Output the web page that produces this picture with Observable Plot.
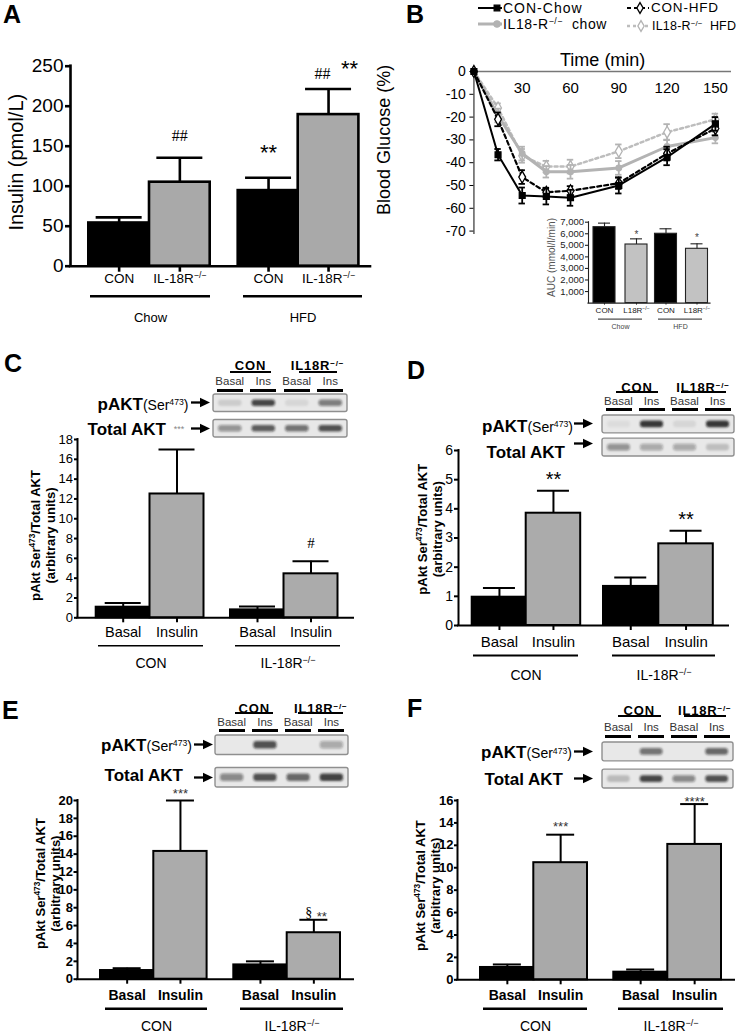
<!DOCTYPE html>
<html>
<head>
<meta charset="utf-8">
<script src="https://cdn.jsdelivr.net/npm/d3@7"></script>
<script src="https://cdn.jsdelivr.net/npm/@observablehq/plot@0.6"></script>
<style>
  html, body { margin: 0; padding: 0; background: #fff; }
  #fig { position: relative; width: 747px; height: 1035px; overflow: hidden; background: #fff;
         font-family: "Liberation Sans", Arial, Helvetica, sans-serif; color: #000; }
  .abs { position: absolute; white-space: nowrap; line-height: 1; }
  .abs sup { font-size: 62%; line-height: 0; vertical-align: 0; position: relative; top: -0.55em; }
</style>
</head>
<body>
<div id="fig"></div>
<script>
// ================= DATA =================
// Panel A – fasting insulin
const aDiets = ["Chow", "HFD"];
const aGenotypes = ["CON", "IL-18R^{−/−}"];
const aInsulin = [54, 105, 94.5, 189.5];
const aInsulinSem = [7, 30.5, 16, 32];
const aTicks = [0, 50, 100, 150, 200, 250];
const aSigHash = ["", "##", "", "##"];
const aSigStar = ["", "", "**", "**"];

// Panel B – insulin tolerance test
const bTime = [0, 15, 30, 45, 60, 90, 120, 150];
const bSeriesNames = ["CON-Chow", "IL18-R^{−/−}  chow", "CON-HFD", "IL18-R^{−/−}  HFD"];
const bConChow    = [0, -36.5, -54.4, -54.8, -55.4, -50, -37.6, -23];
const bConChowSem = [0, 2.5, 3.5, 3.5, 3.5, 3.5, 3.5, 3];
const bIlChow     = [0, -19.3, -36, -44, -44, -42.3, -32.9, -29];
const bIlChowSem  = [0, 3, 3, 2.5, 3, 3, 3, 2.5];
const bConHfd     = [0, -21, -46.3, -53, -52.3, -49, -36, -25];
const bConHfdSem  = [0, 3, 3, 2, 2, 2.5, 3, 3];
const bIlHfd      = [0, -16, -37, -41.7, -41.7, -35, -26.6, -21];
const bIlHfdSem   = [0, 2, 3, 2.5, 3, 3, 3.5, 2.5];
const bXTicks = [30, 60, 90, 120, 150];
const bYTicks = [0, -10, -20, -30, -40, -50, -60, -70];
const bXLabel = "Time (min)";
const bYLabel = "Blood Glucose (%)";

// Panel B inset – AUC
const aucGenotypes = ["CON", "L18R^{−/−}"];
const aucDiets = ["Chow", "HFD"];
const aucMean = [6570, 5070, 6000, 4700];
const aucSem = [350, 490, 430, 430];
const aucSig = ["", "*", "", "*"];
const aucTicks = [1000, 2000, 3000, 4000, 5000, 6000, 7000];

// Panels C–F – pAkt/total Akt
const treatments = ["Basal", "Insulin"];
const strains = ["CON", "IL-18R^{−/−}"];
const pAktLabel = "pAkt Ser^{473}/Total AKT\n(arbitrary units)";
const blotRows = ["pAKT", "Total AKT"];
const blotLanes = ["Basal", "Ins", "Basal", "Ins"];
const blotStrains = ["CON", "IL18R^{−/−}"];

const cMean = [1.07, 12.5, 0.8, 4.44];
const cSem  = [0.43, 4.5, 0.34, 1.26];
const cTicks = [0, 2, 4, 6, 8, 10, 12, 14, 16, 18];
const cSig = ["", "", "", "#"];
const cPakt  = [0.12, 0.75, 0.08, 0.5];
const cTotal = [0.4, 0.65, 0.55, 0.7];

const dMean = [0.97, 3.85, 1.34, 2.8];
const dSem  = [0.32, 0.77, 0.31, 0.45];
const dTicks = [0, 1, 2, 3, 4, 5, 6];
const dSig = ["", "**", "", "**"];
const dPakt  = [0.05, 0.85, 0.08, 0.85];
const dTotal = [0.4, 0.3, 0.3, 0.18];

const eMean = [0.97, 14.3, 1.6, 5.2];
const eSem  = [0.26, 5.7, 0.4, 1.45];
const eTicks = [0, 2, 4, 6, 8, 10, 12, 14, 16, 18, 20];
const eSig = ["", "***", "", "**"];
const eSig2 = ["", "", "", "§"];
const ePakt  = [0.0, 0.7, 0.0, 0.3];
const eTotal = [0.45, 0.7, 0.6, 0.8];

const fMean = [1.1, 10.45, 0.68, 12.08];
const fSem  = [0.27, 2.5, 0.24, 3.6];
const fTicks = [0, 2, 4, 6, 8, 10, 12, 14, 16];
const fSig = ["", "***", "", "****"];
const fPakt  = [0.0, 0.55, 0.0, 0.6];
const fTotal = [0.2, 0.75, 0.45, 0.7];

// ================= HELPERS =================
const FONT = '"Liberation Sans", Arial, Helvetica, sans-serif';
const SERIF = '"Liberation Serif", "Times New Roman", serif';
const fig = document.getElementById("fig");
const NS = "http://www.w3.org/2000/svg";
let blurCount = 0;

function rich(root) {
  root.querySelectorAll("text, tspan").forEach(el => {
    if (el.childElementCount) return;
    const s = el.textContent;
    if (!s.includes("^{")) return;
    el.textContent = "";
    const re = /\^\{([^}]*)\}/g; let last = 0, m;
    const add = (t, sup) => {
      const ts = document.createElementNS(NS, "tspan");
      ts.textContent = t;
      if (sup) { ts.setAttribute("baseline-shift", "super"); ts.setAttribute("font-size", "64%"); }
      el.appendChild(ts);
    };
    while ((m = re.exec(s))) { if (m.index > last) add(s.slice(last, m.index)); add(m[1], true); last = re.lastIndex; }
    if (last < s.length) add(s.slice(last));
  });
}
const htmlRich = s => s.replace(/\^\{([^}]*)\}/g, "<sup>$1</sup>").replace(/  /g, "&nbsp; ");

function mount(svg, left, top) {
  rich(svg);
  svg.style.position = "absolute";
  svg.style.left = left + "px";
  svg.style.top = top + "px";
  svg.style.maxWidth = "none";
  fig.appendChild(svg);
  return svg;
}

function label(html, x, y, opt = {}) {
  const d = document.createElement("div");
  d.className = "abs";
  d.innerHTML = html;
  const tx = opt.anchor === "end" ? "-100%" : opt.anchor === "middle" ? "-50%" : "0";
  Object.assign(d.style, {
    left: x + "px", top: y + "px",
    fontSize: (opt.size || 14) + "px",
    fontWeight: opt.weight || "normal",
    color: opt.color || "#000",
    letterSpacing: opt.ls ? opt.ls + "px" : "normal",
    fontFamily: opt.family || FONT,
    transform: `translate(${tx},-50%)`
  });
  fig.appendChild(d);
  return d;
}

function box(x, y, w, h, color = "#000") {
  const d = document.createElement("div");
  Object.assign(d.style, {position: "absolute", left: x + "px", top: y + "px", width: w + "px", height: h + "px", background: color});
  fig.appendChild(d);
}

function arrow(tip, y) {
  const s = d3.create("svg").attr("width", 19).attr("height", 11)
    .style("position", "absolute").style("left", (tip - 19) + "px").style("top", (y - 5.5) + "px").style("overflow", "visible");
  s.append("line").attr("x1", 0).attr("x2", 11).attr("y1", 5.5).attr("y2", 5.5).attr("stroke", "#000").attr("stroke-width", 2.3);
  s.append("path").attr("d", "M9,0.8 L19,5.5 L9,10.2 Z").attr("fill", "#000");
  fig.appendChild(s.node());
}

// ------------- bar chart panel -------------
function barPanel(o) {
  const u = px => (px - o.axisX) / o.barW;
  const xmax = u(o.axisRight);
  const bars = o.means.map((m, i) => {
    const x1 = u(o.barLefts[i]);
    return {x1, x2: x1 + 1, xc: x1 + 0.5, m, top: m + o.sems[i], fill: i % 2 ? o.gray : "#000", cat: o.cats[i % 2]};
  });
  const cap = o.capHalf / o.barW;
  const groups = o.groups.map((g, k) => ({name: g, x1: u(o.groupPx[k][0]), x2: u(o.groupPx[k][1]),
    xc: (u(o.groupPx[k][0]) + u(o.groupPx[k][1])) / 2}));
  const tickMap = new Map(bars.map(b => [b.xc, b.cat]));
  const sw = o.sw, aw = o.axisW;
  const svg = Plot.plot({
    width: o.svgRight - o.svgLeft,
    height: o.svgBottom - o.svgTop,
    marginLeft: o.axisX - o.svgLeft,
    marginRight: o.svgRight - o.axisRight,
    marginTop: o.yTopPx - o.svgTop,
    marginBottom: o.svgBottom - o.y0Px,
    style: {fontFamily: FONT, background: "transparent", overflow: "visible", color: o.color || "#000"},
    color: {type: "identity"},
    x: {domain: [0, xmax]},
    y: {domain: [0, o.yMax]},
    marks: [
      Plot.rectY(bars, {x1: "x1", x2: "x2", y1: () => 0, y2: "m", fill: "fill", stroke: o.barStroke || "#000", strokeWidth: sw}),
      Plot.ruleX(bars, {x: "xc", y1: "m", y2: "top", strokeWidth: sw, stroke: o.barStroke || "#000"}),
      Plot.ruleY(bars, {y: "top", x1: d => d.xc - cap, x2: d => d.xc + cap, strokeWidth: sw, stroke: o.barStroke || "#000"}),
      Plot.ruleX([0], {x: d => d, y1: () => 0, y2: () => o.yMax, strokeWidth: aw, strokeLinecap: "square"}),
      Plot.ruleY([0], {y: d => d, x1: () => 0, x2: () => xmax, strokeWidth: aw, strokeLinecap: "square"}),
      Plot.axisY({ticks: o.ticks, tickFormat: o.tickFormat || (d => String(d)), tickSize: o.tickSize, tickPadding: o.tickPad,
        fontSize: o.tickFont, fontWeight: o.tickWeight || "normal", strokeWidth: aw, label: null}),
      Plot.axisX({ticks: bars.map(b => b.xc), tickFormat: d => tickMap.get(d), tickSize: o.catTick, tickPadding: o.catPad,
        fontSize: o.catFont, fontWeight: o.catWeight || "normal", strokeWidth: aw, label: null}),
      Plot.ruleY(groups, {y: () => 0, x1: "x1", x2: "x2", dy: o.glDy, strokeWidth: o.glW}),
      Plot.text(groups, {x: "xc", y: () => 0, dy: o.gtDy, text: "name", fontSize: o.gtFont, fill: o.gtColor || "#000"}),
      Plot.text([o.yLabel], {y: () => o.yLabelY, frameAnchor: "left", textAnchor: "middle", lineAnchor: "middle",
        rotate: -90, dx: o.yLabelDx, fontSize: o.yLabelFont, fontWeight: o.yLabelWeight || "normal",
        lineHeight: 1.15, fill: o.yLabelColor || "#000"}),
      ...o.sig.filter(s => s.text).map(s => Plot.text([bars[s.bar]], {x: "xc", y: "top", text: () => s.text,
        dy: -s.off, dx: s.dx || 0, fontSize: s.fs, fontFamily: s.ff || FONT, fill: s.color || "#000"}))
    ]
  });
  return mount(svg, o.svgLeft, o.svgTop);
}

// ------------- western blot -------------
function blotPanel(o) {
  const W = o.right - o.left, H = o.bottom - o.top;
  const cells = [];
  blotRows.forEach((r, ri) => blotLanes.forEach((l, li) => cells.push({row: r, lane: li, v: (ri ? o.total : o.pakt)[li]})));
  const svg = Plot.plot({
    width: W, height: H, margin: 0,
    style: {background: "transparent", overflow: "visible"},
    opacity: {type: "identity"},
    x: {type: "band", domain: d3.range(blotLanes.length), padding: 0, round: false, axis: null},
    y: {type: "band", domain: blotRows, paddingInner: o.pad, paddingOuter: 0, round: false, axis: null},
    marks: [
      Plot.cell(blotRows, {y: d => d, fill: "#e8e8e8", stroke: "#8f8f8f", strokeWidth: 1.4, rx: 2}),
      Plot.cell(cells, {x: "lane", y: "row", fill: "#161616", fillOpacity: "v",
        insetLeft: 5, insetRight: 5, insetTop: o.by, insetBottom: o.by, rx: 3})
    ]
  });
  const id = "blur" + (++blurCount);
  const f = d3.select(svg).append("defs").append("filter").attr("id", id)
    .attr("x", "-20%").attr("y", "-60%").attr("width", "140%").attr("height", "220%");
  f.append("feGaussianBlur").attr("stdDeviation", 1.3);
  const gs = svg.querySelectorAll('g[aria-label="cell"]');
  if (gs.length > 1) gs[gs.length - 1].setAttribute("filter", `url(#${id})`);
  mount(svg, o.left, o.top);

  const xS = svg.scale("x"), yS = svg.scale("y");
  const lc = i => o.left + xS.apply(i) + xS.bandwidth / 2;
  const rc = r => o.top + yS.apply(r) + yS.bandwidth / 2;
  blotStrains.forEach((s, k) => {
    const cx = (lc(2 * k) + lc(2 * k + 1)) / 2 + o.hdx;
    label(htmlRich(s), cx, o.top + o.hStrain, {anchor: "middle", size: 13, weight: "bold", ls: 0.8});
    box(cx - o.ulW[k] / 2, o.top + o.hUl - 0.75, o.ulW[k], 1.5);
  });
  blotLanes.forEach((l, i) => {
    label(l, lc(i), o.top + o.hLane, {anchor: "middle", size: 11.5, color: "#333"});
    box(lc(i) - 13, o.top + o.hBar - 1.5, 26, 3);
  });
  const r0 = rc(blotRows[0]), r1 = rc(blotRows[1]);
  label(`<b>pAKT</b><span style="font-size:14px;font-weight:normal">(Ser<sup>473</sup>)</span>`,
    o.pRight, r0 + o.pDy, {anchor: "end", size: 17, weight: "bold"});
  arrow(o.tip, r0);
  label("Total AKT", o.tRight, r1 + o.tDy, {anchor: "end", size: 17, weight: "bold"});
  arrow(o.tip, r1 + (o.tArrowDy || 0));
  if (o.extra) label(o.extra, o.extraX, r1 + 1, {anchor: "middle", size: 9, color: "#888"});
}

// ================= PANEL A =================
barPanel({
  svgLeft: 0, svgTop: 45, svgRight: 374, svgBottom: 330,
  axisX: 70, axisRight: 370, yTopPx: 65.7, y0Px: 265.7, yMax: 250,
  barLefts: [88.3, 149, 237.7, 297.7], barW: 60.7, groupPx: [[90, 210], [243, 362]],
  means: aInsulin, sems: aInsulinSem, cats: aGenotypes, groups: aDiets,
  capHalf: 23, sw: 2.6, axisW: 2.6, gray: "#a9a9a9",
  ticks: aTicks, tickSize: 5, tickPad: 2, tickFont: 19,
  catFont: 13.5, catTick: 6, catPad: 1,
  glDy: 30, glW: 2.6, gtDy: 52, gtFont: 13,
  yLabel: "Insulin (pmol/L)", yLabelY: 130, yLabelDx: -55, yLabelFont: 20,
  sig: [
    {bar: 1, text: aSigHash[1], off: 22, fs: 16, ff: SERIF},
    {bar: 2, text: aSigStar[2], off: 25, fs: 22},
    {bar: 3, text: aSigHash[3], off: 15.5, fs: 16, ff: SERIF, dx: -6},
    {bar: 3, text: aSigStar[3], off: 20, fs: 22, dx: 21}
  ]
});

// ================= PANEL B =================
const bStyles = [
  {stroke: "#000", w: 2, dash: null, symbol: "square", r: 3.3, fill: "#000", sym: "#000"},
  {stroke: "#b3b3b3", w: 3, dash: null, symbol: "circle", r: 2.8, fill: "#b3b3b3", sym: "#b3b3b3"},
  {stroke: "#000", w: 2.2, dash: "4,3", symbol: "diamond", r: 3.6, fill: "#fff", sym: "#000"},
  {stroke: "#bdbdbd", w: 2.5, dash: "3,3", symbol: "diamond", r: 3.6, fill: "#fff", sym: "#b3b3b3"}
];
const bValues = [bConChow, bIlChow, bConHfd, bIlHfd];
const bSems = [bConChowSem, bIlChowSem, bConHfdSem, bIlHfdSem];
const bMarks = [];
[3, 1, 2, 0].forEach(k => {
  const s = bStyles[k];
  const pts = bTime.map((t, i) => ({t, v: bValues[k][i], e: bSems[k][i]}));
  const err = pts.filter(p => p.e > 0);
  bMarks.push(
    Plot.line(pts, {x: "t", y: "v", stroke: s.stroke, strokeWidth: s.w, strokeDasharray: s.dash || undefined}),
    Plot.ruleX(err, {x: "t", y1: d => d.v - d.e, y2: d => d.v + d.e, stroke: s.sym, strokeWidth: 1.8}),
    Plot.ruleY(err, {y: d => d.v + d.e, x1: d => d.t - 2, x2: d => d.t + 2, stroke: s.sym, strokeWidth: 1.8}),
    Plot.ruleY(err, {y: d => d.v - d.e, x1: d => d.t - 2, x2: d => d.t + 2, stroke: s.sym, strokeWidth: 1.8}),
    Plot.dot(pts, {x: "t", y: "v", symbol: s.symbol, r: s.r, fill: s.fill, stroke: s.sym, strokeWidth: 1.3})
  );
});
const bPlot = Plot.plot({
  width: 377, height: 200, marginLeft: 103.4, marginRight: 16, marginTop: 31, marginBottom: 6,
  style: {fontFamily: FONT, background: "transparent", overflow: "visible"},
  x: {domain: [0, 160], axis: null},
  y: {domain: [-71.5, 0]},
  marks: [
    Plot.ruleY([0], {y: d => d, x1: () => 0, x2: () => 160, stroke: "#777", strokeWidth: 1.5}),
    Plot.ruleX([0], {x: d => d, y1: () => -71.5, y2: () => 0, stroke: "#777", strokeWidth: 1.8}),
    Plot.axisY({ticks: bYTicks, tickFormat: d => d < 0 ? "-" + (-d) : String(d), tickSize: 4, tickPadding: 4, fontSize: 14, label: null}),
    Plot.text(bXTicks, {x: d => d, y: () => 0, dy: 17, text: d => String(d), fontSize: 15}),
    Plot.text([bXLabel], {frameAnchor: "top", lineAnchor: "middle", textAnchor: "middle", dy: -11, fontSize: 18}),
    Plot.text([bYLabel], {y: () => -30, frameAnchor: "left", textAnchor: "middle", lineAnchor: "middle", rotate: -90, dx: -90, fontSize: 18}),
    ...bMarks
  ]
});
mount(bPlot, 370, 40);

// legend of B
function legendRow(x, y, len, s, mx, textX, html, size, ls) {
  const sv = d3.create("svg").attr("width", len).attr("height", 14)
    .style("position", "absolute").style("left", x + "px").style("top", (y - 7) + "px").style("overflow", "visible");
  sv.append("line").attr("x1", 0).attr("x2", len).attr("y1", 7).attr("y2", 7)
    .attr("stroke", s.stroke).attr("stroke-width", s.w).attr("stroke-dasharray", s.dash);
  const type = {square: d3.symbolSquare, circle: d3.symbolCircle, diamond: d3.symbolDiamond}[s.symbol];
  sv.append("path").attr("d", d3.symbol(type, s.symbol === "diamond" ? 34 : 32)())
    .attr("transform", `translate(${mx},7)`).attr("fill", s.fill).attr("stroke", s.sym).attr("stroke-width", 1.3);
  fig.appendChild(sv.node());
  label(html, textX, y, {size, ls});
}
legendRow(478, 8, 24, bStyles[0], 19, 503, htmlRich(bSeriesNames[0]), 14, 1);
legendRow(478, 24, 24, bStyles[1], 19, 503, htmlRich(bSeriesNames[1]), 14, 0.6);
legendRow(627, 8, 22, bStyles[2], 13, 651, htmlRich(bSeriesNames[2]), 13.5, 0.8);
legendRow(627, 26, 23, bStyles[3], 14, 652, htmlRich(bSeriesNames[3]), 12.5, 0.2);

// inset AUC
barPanel({
  svgLeft: 540, svgTop: 212, svgRight: 715, svgBottom: 335,
  axisX: 588, axisRight: 710, yTopPx: 221.7, y0Px: 302.6, yMax: 7000,
  barLefts: [593, 625, 654.5, 685.5], barW: 22, groupPx: [[598, 642], [658, 702]],
  means: aucMean, sems: aucSem, cats: aucGenotypes, groups: aucDiets,
  capHalf: 6, sw: 1.1, axisW: 1.1, gray: "#c2c2c2", barStroke: "#222", color: "#222",
  ticks: aucTicks, tickFormat: d3.format(","), tickSize: 3, tickPad: 1.5, tickFont: 9.5,
  catFont: 8, catTick: 2, catPad: 2,
  glDy: 16, glW: 1, gtDy: 24, gtFont: 7, gtColor: "#444",
  yLabel: "AUC (mmol/l/min)", yLabelY: 3950, yLabelDx: -37, yLabelFont: 10, yLabelColor: "#555",
  sig: [
    {bar: 1, text: aucSig[1], off: 4, fs: 10, color: "#444"},
    {bar: 3, text: aucSig[3], off: 6, fs: 10, color: "#444"}
  ]
});

// ================= PANEL C =================
barPanel({
  svgLeft: 0, svgTop: 425, svgRight: 360, svgBottom: 680,
  axisX: 77, axisRight: 353, yTopPx: 439, y0Px: 617.3, yMax: 18,
  barLefts: [95.7, 149.5, 230, 283.5], barW: 54, groupPx: [[98, 203], [235, 340]],
  means: cMean, sems: cSem, cats: treatments, groups: strains,
  capHalf: 18, sw: 2, axisW: 2, gray: "#ababab",
  ticks: cTicks, tickSize: 3, tickPad: 1.5, tickFont: 13,
  catFont: 14.5, catTick: 5, catPad: 4,
  glDy: 28, glW: 1.5, gtDy: 46, gtFont: 14,
  yLabel: pAktLabel, yLabelY: 8.3, yLabelDx: -34.5, yLabelFont: 13, yLabelWeight: "bold",
  sig: [{bar: 3, text: cSig[3], off: 18.6, fs: 15, ff: SERIF}]
});
blotPanel({
  left: 213, right: 347, top: 394, bottom: 437, pad: 0.31, by: 5.5,
  pakt: cPakt, total: cTotal,
  hdx: 4, ulW: [41, 38], hStrain: -29, hUl: -22, hLane: -12, hBar: -4,
  pRight: 188.5, pDy: 1, tRight: 166, tDy: 1, tip: 210,
  extra: "***", extraX: 179
});

// ================= PANEL D =================
barPanel({
  svgLeft: 380, svgTop: 440, svgRight: 740, svgBottom: 690,
  axisX: 458, axisRight: 728, yTopPx: 450, y0Px: 625, yMax: 6,
  barLefts: [471.7, 525.7, 603, 658.3], barW: 54.5, groupPx: [[473, 578], [612, 715]],
  means: dMean, sems: dSem, cats: treatments, groups: strains,
  capHalf: 16, sw: 2, axisW: 2, gray: "#ababab",
  ticks: dTicks, tickSize: 4, tickPad: 1.5, tickFont: 14,
  catFont: 15, catTick: 5, catPad: 6,
  glDy: 30, glW: 2, gtDy: 50, gtFont: 14,
  yLabel: pAktLabel, yLabelY: 3.3, yLabelDx: -28.5, yLabelFont: 13, yLabelWeight: "bold",
  sig: [
    {bar: 1, text: dSig[1], off: 11.5, fs: 20},
    {bar: 3, text: dSig[3], off: 11.5, fs: 20}
  ]
});
blotPanel({
  left: 602, right: 734, top: 415, bottom: 456, pad: 0.23, by: 5.5,
  pakt: dPakt, total: dTotal,
  hdx: 2, ulW: [42, 45], hStrain: -28, hUl: -23, hLane: -13, hBar: -5.7,
  pRight: 573, pDy: 2, tRight: 565, tDy: 5, tArrowDy: -4, tip: 593
});

// ================= PANEL E =================
barPanel({
  svgLeft: 0, svgTop: 780, svgRight: 360, svgBottom: 1035,
  axisX: 77, axisRight: 353, yTopPx: 800, y0Px: 978.7, yMax: 20,
  barLefts: [100, 153.3, 233.3, 286.7], barW: 53.3, groupPx: [[105, 207], [240, 343]],
  means: eMean, sems: eSem, cats: treatments, groups: strains,
  capHalf: 14, sw: 2, axisW: 2, gray: "#ababab",
  ticks: eTicks, tickSize: 3.5, tickPad: 1, tickFont: 13, tickWeight: "bold",
  catFont: 14, catWeight: "bold", catTick: 5, catPad: 6,
  glDy: 29.6, glW: 2.5, gtDy: 47.5, gtFont: 14,
  yLabel: pAktLabel, yLabelY: 10.7, yLabelDx: -29.5, yLabelFont: 13, yLabelWeight: "bold",
  sig: [
    {bar: 1, text: eSig[1], off: 6.6, fs: 13, color: "#333"},
    {bar: 3, text: eSig2[3], off: 7.6, fs: 14, ff: SERIF, dx: -5},
    {bar: 3, text: eSig[3], off: 3, fs: 13, dx: 8, color: "#333"}
  ]
});
blotPanel({
  left: 215, right: 348, top: 735, bottom: 787, pad: 0.4, by: 6,
  pakt: ePakt, total: eTotal,
  hdx: 6, ulW: [38, 45], hStrain: -27, hUl: -22, hLane: -12, hBar: -4.3,
  pRight: 192, pDy: 0, tRight: 183, tDy: -2, tip: 213
});

// ================= PANEL F =================
barPanel({
  svgLeft: 380, svgTop: 780, svgRight: 740, svgBottom: 1035,
  axisX: 457, axisRight: 734, yTopPx: 800, y0Px: 979.3, yMax: 16,
  barLefts: [480, 533.3, 613.3, 667.3], barW: 53.7, groupPx: [[483, 587], [618, 723]],
  means: fMean, sems: fSem, cats: treatments, groups: strains,
  capHalf: 14, sw: 2, axisW: 2, gray: "#a9a9a9",
  ticks: fTicks, tickSize: 3, tickPad: 1, tickFont: 13, tickWeight: "bold",
  catFont: 14, catWeight: "bold", catTick: 5, catPad: 5,
  glDy: 29, glW: 2.5, gtDy: 47, gtFont: 14,
  yLabel: pAktLabel, yLabelY: 8.4, yLabelDx: -29.5, yLabelFont: 13, yLabelWeight: "bold",
  sig: [
    {bar: 1, text: fSig[1], off: 7.6, fs: 13, color: "#333"},
    {bar: 3, text: fSig[3], off: 2.2, fs: 13, color: "#333"}
  ]
});
blotPanel({
  left: 602, right: 733, top: 742, bottom: 788, pad: 0.305, by: 6,
  pakt: fPakt, total: fTotal,
  hdx: 4.5, ulW: [43, 42], hStrain: -32, hUl: -26, hLane: -14, hBar: -5.3,
  pRight: 572, pDy: 1, tRight: 563, tDy: 0, tip: 593
});

// ================= panel letters =================
[["A", 3, 14], ["B", 406, 14], ["C", 4, 363], ["D", 407, 370], ["E", 2, 710], ["F", 407, 708]]
  .forEach(([t, x, y]) => label(t, x, y, {size: 25, weight: "bold"}));
</script>
</body>
</html>
